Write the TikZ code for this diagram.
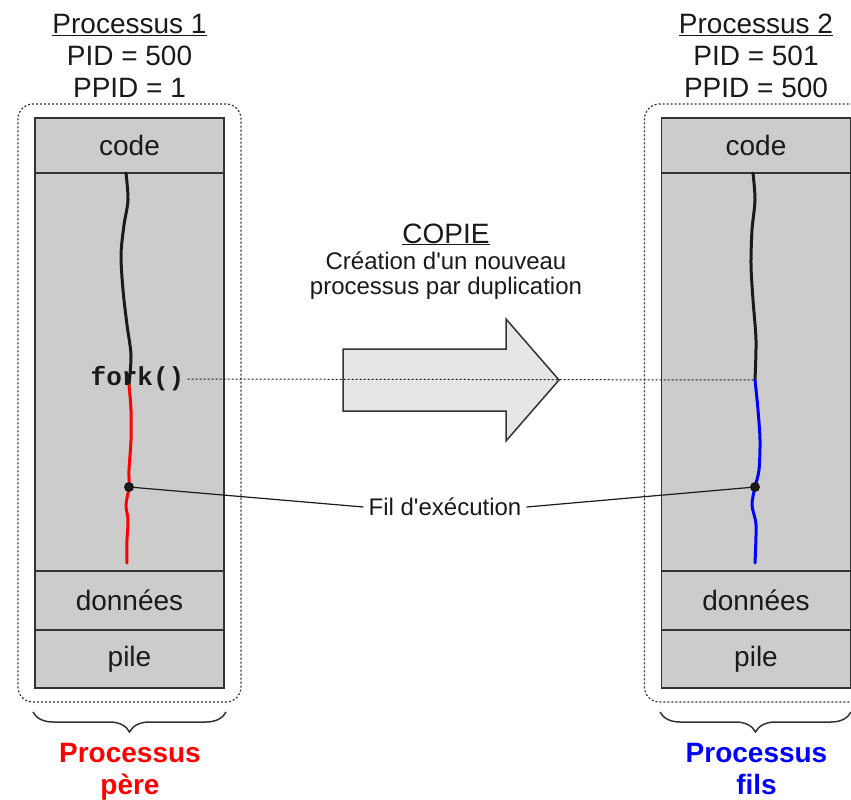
\documentclass[tikz,border=0pt]{standalone}
\usepackage{fontspec}
\setmainfont{Liberation Sans}
\newfontfamily\codefont{Liberation Mono}
\usetikzlibrary{positioning,fit,decorations.pathreplacing}
\definecolor{Ink}{HTML}{1A1A1A}
\definecolor{Edge}{HTML}{333333}
\definecolor{Mem}{HTML}{CCCCCC}
\definecolor{Copy}{HTML}{E6E6E6}
\definecolor{Parent}{HTML}{FF0000}
\definecolor{Child}{HTML}{0000FF}
\newcommand{\bigtxt}{\fontsize{28}{32}\selectfont}
\newcommand{\midtxt}{\fontsize{24}{25}\selectfont}

\begin{document}
\begin{tikzpicture}[x=1pt,y=-1pt,
  seg/.style={draw=Edge,line width=1.5pt,fill=Mem,minimum width=189pt,inner sep=0pt,outer sep=0pt,text=Ink,font=\bigtxt},
  frame/.style={draw=Edge,line width=1.2pt,dash pattern=on 2pt off 2pt,rounded corners=15pt,inner xsep=17pt,inner ysep=14pt},
  title/.style={align=center,text=Ink,font=\bigtxt,inner sep=0pt},
  thread/.style={line width=3pt,line cap=round},
  link/.style={draw=Ink,line width=1.2pt},
  guide/.style={draw=Ink,line width=1pt,dash pattern=on 2pt off 2pt},
  brace/.style={decorate,decoration={brace,mirror,amplitude=20pt},draw=Edge,line width=1.5pt},
  role/.style={align=center,font=\bigtxt\bfseries,inner sep=0pt}
]
\clip (0,0) rectangle (851,800);
% parent process
\node[seg,minimum height=55pt] (code1) at (129.5,145.5) {code};
\node[seg,minimum height=398pt,below=0pt of code1] (body1) {};
\node[seg,minimum height=59pt,below=0pt of body1] (data1) {données};
\node[seg,minimum height=58pt,below=0pt of data1] (pile1) {pile};
\node[frame,fit=(code1)(pile1)] (proc1) {};
\node[title,anchor=north] (head1) at (129.5,14) {\underline{Processus 1}\\PID = 500\\PPID = 1};
% child process
\node[seg,minimum height=55pt] (code2) at (756,145.5) {code};
\node[seg,minimum height=398pt,below=0pt of code2] (body2) {};
\node[seg,minimum height=59pt,below=0pt of body2] (data2) {données};
\node[seg,minimum height=58pt,below=0pt of data2] (pile2) {pile};
\node[frame,fit=(code2)(pile2)] (proc2) {};
\node[title,anchor=north] (head2) at (756,14) {\underline{Processus 2}\\PID = 501\\PPID = 500};
% copy
\node[title,anchor=base] (copie) at (446,243) {\underline{COPIE}};
\node[title,font=\midtxt,anchor=north] (dup) at (446,252) {Création d\textquotesingle un nouveau\\processus par duplication};
\draw[fill=Copy,draw=Edge,line width=1.5pt] (343,349) -- (506,349) -- (506,319) -- (559,380)
  -- (506,441) -- (506,411) -- (343,411) -- cycle;
% threads
\draw[thread,draw=Ink] plot[smooth] coordinates {(126,173) (128,200) (124,225) (121,255) (123,290) (127,325) (131,355) (129,385)};
\draw[thread,draw=Parent] plot[smooth] coordinates {(129,385) (131,410) (131,440) (129,470) (129,487) (126,505) (128,520) (127,540) (127,563)};
\draw[thread,draw=Ink] plot[smooth] coordinates {(753,173) (755,200) (752,230) (751,265) (753,300) (756,340) (755,380)};
\draw[thread,draw=Child] plot[smooth] coordinates {(755,380) (758,410) (760,440) (759,470) (755,487) (752,505) (756,525) (755,563)};
\node[font=\codefont\bfseries\fontsize{26}{26}\selectfont,text=Ink,inner sep=3pt] (fork) at (137.5,379) {fork()};
\coordinate (split2) at (755,380);
\draw[guide] (fork.east) -- (split2);
\coordinate (pos1) at (129,487);
\coordinate (pos2) at (755,487);
\fill[Ink] (pos1) circle (5pt);
\fill[Ink] (pos2) circle (5pt);
\node[font=\midtxt,text=Ink,inner sep=5pt] (fil) at (445,507) {Fil d\textquotesingle exécution};
\draw[link] (pos1) -- (fil.west);
\draw[link] (fil.east) -- (pos2);
% roles
\draw[brace] (33,712) -- (226,712);
\draw[brace] (660,712) -- (851,712);
\node[role,text=Parent,anchor=north] (pere) at (130,743) {Processus\\père};
\node[role,text=Child,anchor=north] (fils) at (756.5,743) {Processus\\fils};
\end{tikzpicture}
\end{document}
